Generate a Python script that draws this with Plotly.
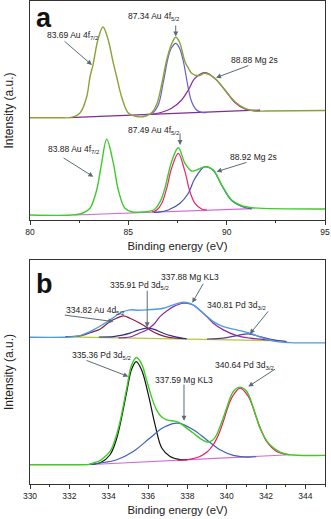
import plotly.graph_objects as go

# ---------------- Panel a (Au 4f / Mg 2s) ----------------
a_top_env_x = [80.0, 81.5, 82.1, 82.54, 82.88, 83.05, 83.22, 83.45, 83.71, 83.95, 84.24, 84.41, 84.66, 85.0, 85.42, 85.9,
               86.2, 86.45, 86.7, 86.95, 87.2, 87.41, 87.6, 87.88, 88.05, 88.22, 88.56, 88.9, 89.4, 89.91, 90.42, 90.93,
               91.44, 92.0, 95.0]
a_top_env_y = [102.3, 102.3, 102.6, 107, 123, 143, 156.7, 180, 193, 182, 156.7, 143, 123, 107, 103.5, 104,
               107.5, 116, 136, 160, 176, 182.7, 178, 158.3, 152, 146.7, 144.3, 146.7, 141.7, 130, 118.3, 111.7,
               109, 109, 109.5]
a_top_base_x = [82.0, 91.7]
a_top_base_y = [102.3, 110.0]
a_top_c1_x = [85.9, 86.2, 86.52, 86.78, 87.03, 87.2, 87.41, 87.6, 87.8, 88.05, 88.22, 88.47, 88.73, 89.0]
a_top_c1_y = [105.6, 106.5, 115, 138, 163, 172.5, 176.7, 172, 158.3, 131.7, 118.3, 110, 107.7, 107.5]
a_top_c2_x = [86.2, 86.7, 87.2, 87.71, 88.05, 88.39, 88.9, 89.4, 89.91, 90.42, 90.93, 91.44, 91.7]
a_top_c2_y = [105.5, 107.7, 111.7, 120, 130, 141.7, 147.3, 141.5, 130, 117.5, 111, 109.2, 109.6]

a_bot_env_x = [80.0, 82.3, 82.7, 83.05, 83.39, 83.64, 83.9, 84.24, 84.49, 84.83, 85.2, 85.7, 86.1, 86.36, 86.52, 86.7,
               86.86, 87.2, 87.54, 87.88, 88.22, 88.56, 88.9, 89.32, 89.75, 90.25, 90.76, 91.27, 95.0]
a_bot_env_y = [5, 5.2, 7, 11.7, 30, 56.7, 80.7, 56.7, 30, 11.7, 8, 8, 8.8, 11, 15, 22,
               31.7, 58.3, 72.3, 56.7, 49, 50.7, 53.3, 50, 35, 20, 14.3, 12.3, 11]
a_bot_base_x = [82.3, 91.3]
a_bot_base_y = [5.0, 11.3]
a_bot_red_x = [86.2, 86.45, 86.7, 86.95, 87.2, 87.54, 87.88, 88.13, 88.39, 88.73, 89.0]
a_bot_red_y = [8, 10, 16.7, 31.7, 51.7, 66.7, 48.3, 28.3, 16.7, 11, 10]
a_bot_blue_x = [86.3, 86.52, 87.03, 87.63, 88.05, 88.39, 88.9, 89.32, 89.75, 90.25, 90.76, 91.27]
a_bot_blue_y = [7.6, 7.8, 10, 16.7, 26.7, 41.7, 53.3, 49.5, 34.5, 19.5, 13.5, 11.2]

# ---------------- Panel b (Pd 3d / Au 4d / Mg KL3) ----------------
b_top_env_x = [330.0, 332.0, 332.54, 333.22, 333.73, 334.15, 334.58, 335.08, 335.5, 335.93, 336.4, 336.78, 337.29,
               337.8, 338.22, 338.81, 339.32, 339.83, 340.51, 341.18, 341.86, 342.54, 343.22, 345.0]
b_top_env_y = [147, 147.2, 148.6, 154.3, 160, 165.3, 171, 174.3, 174, 174.3, 175, 176, 179.3,
               182, 180, 171, 162.6, 157.6, 154.3, 151, 146, 142.6, 141.6, 141.3]
b_top_base_x = [331.8, 343.0]
b_top_base_y = [147.3, 143.2]
b_top_au_x = [331.8, 332.6, 333.22, 333.56, 334.07, 334.4, 334.75, 335.08, 335.59, 335.93, 336.1, 336.61, 337.0,
              337.46, 337.8]
b_top_au_y = [147.5, 148.5, 152.6, 155, 162.6, 166, 168.3, 166, 161, 157, 154.3, 149.3, 147, 146, 145.5]
b_top_pd1_x = [333.5, 334.24, 334.7, 335.08, 335.5, 335.93, 336.27, 336.78, 337.2, 337.46, 337.97]
b_top_pd1_y = [147.2, 147.6, 149, 151, 154, 156, 155, 151, 148.3, 147, 145.3]
b_top_mg_x = [334.5, 335.08, 335.5, 335.93, 336.3, 336.61, 337.0, 337.29, 337.8, 338.3, 338.81, 339.32, 339.83,
              340.51, 341.18, 342.03, 342.5]
b_top_mg_y = [146.3, 147.2, 150.5, 154.3, 160, 167.6, 174, 177.6, 181, 179.3, 171, 161, 154.3,
              148.6, 146, 144.3, 143.8]
b_top_pd2_x = [339.0, 339.83, 340.51, 341.1, 341.69, 342.37, 343.05]
b_top_pd2_y = [145.2, 146, 148.6, 150.3, 147.6, 144.3, 142.6]

b_bot_env_x = [330.0, 332.5, 333.0, 333.22, 333.6, 334.07, 334.35, 334.58, 334.92, 335.17, 335.42, 335.68, 335.93,
               336.2, 336.44, 336.7, 336.95, 337.54, 337.9, 338.3, 338.7, 339.07, 339.3, 339.49, 339.75, 340.0,
               340.34, 340.68, 341.02, 341.36, 341.69, 341.95, 342.2, 342.71, 343.2, 345.0]
b_bot_env_y = [19.3, 19.3, 19.6, 21, 24, 32.6, 46, 62.6, 96, 119.3, 126.6, 120, 104,
               86, 74, 67, 64.3, 62, 57, 51, 45, 42, 44, 49.3, 62, 76,
               92.6, 97, 92.6, 76, 56, 46, 39.3, 32, 29.3, 28.7]
b_bot_base_x = [332.88, 343.2]
b_bot_base_y = [19.3, 29.3]
b_bot_blk_x = [333.0, 333.6, 334.07, 334.35, 334.58, 334.92, 335.17, 335.4, 335.68, 336.02, 336.36, 336.7, 337.12,
               337.63, 338.0]
b_bot_blk_y = [19.5, 21.5, 29.3, 42, 59.3, 92.6, 115, 122.6, 114, 89.3, 59.3, 36, 27.6, 24.5, 24.4]
b_bot_blue_x = [333.0, 333.56, 334.41, 335.25, 336.1, 336.78, 337.54, 338.3, 338.98, 339.66, 340.34, 341.02, 341.5]
b_bot_blue_y = [19.6, 21, 24.3, 32.6, 46, 56.6, 61, 54.3, 44.3, 34.3, 28.7, 27, 27.3]
b_bot_red_x = [337.5, 337.97, 338.64, 339.0, 339.32, 339.6, 339.83, 340.25, 340.68, 341.1, 341.52, 341.8, 342.03,
               342.54, 343.2]
b_bot_red_y = [23.8, 24.3, 27.6, 32, 39.3, 50, 62.6, 86, 96, 87.6, 66, 52, 42.6, 32.6, 29.3]

# annotation labels: text, text position, arrow tail, arrow head
a_labels = ["83.69 Au 4f<sub>7/2</sub>", "87.34 Au 4f<sub>5/2</sub>", "88.88 Mg 2s",
            "83.88 Au 4f<sub>7/2</sub>", "87.49 Au 4f<sub>5/2</sub>", "88.92 Mg 2s"]
a_label_xy = [(82.15, 185), (86.3, 204), (91.41, 160), (82.21, 70), (86.3, 90), (91.34, 63)]
a_arrow_tail = [(81.68, 180), (87.41, 196), (91.18, 155), (81.63, 63), (87.63, 88), (91.08, 58)]
a_arrow_head = [(83.15, 155), (87.41, 183.5), (89.46, 142.3), (83.22, 43.3), (87.63, 75), (89.49, 48.3)]

b_labels = ["334.82 Au 4d<sub>5/2</sub>", "335.91 Pd 3d<sub>5/2</sub>", "337.88 Mg KL3", "340.81 Pd 3d<sub>3/2</sub>",
            "335.36 Pd 3d<sub>5/2</sub>", "337.59 Mg KL3", "340.64 Pd 3d<sub>3/2</sub>"]
b_label_xy = [(333.3, 174), (335.58, 199), (338.13, 207.6), (340.51, 179), (333.64, 129), (337.84, 104.3),
              (340.93, 119)]
b_arrow_tail = [(331.69, 169.3), (335.96, 195), (338.85, 202), (342.17, 174.3), (332.8, 124.3), (337.83, 101),
                (342.54, 116)]
b_arrow_head = [(334.24, 162.6), (335.96, 157), (338.25, 181.5), (341.18, 150.3), (335.0, 107.6), (337.83, 63.3),
                (341.1, 97.6)]

fig = go.Figure()


def add_line(x, y, color, xa, ya, width=1.2):
    fig.add_trace(go.Scatter(x=x, y=y, mode="lines", xaxis=xa, yaxis=ya,
                             line=dict(color=color, width=width, shape="spline", smoothing=1.0),
                             showlegend=False, hoverinfo="skip"))


# panel a
add_line(a_top_base_x, a_top_base_y, "#7e2d8e", "x", "y")
add_line(a_top_c1_x, a_top_c1_y, "#6a5cd2", "x", "y")
add_line(a_top_c2_x, a_top_c2_y, "#8e2aa0", "x", "y")
add_line(a_top_env_x, a_top_env_y, "#8aa236", "x", "y", 1.4)
add_line(a_bot_base_x, a_bot_base_y, "#cf6ad8", "x", "y")
add_line(a_bot_red_x, a_bot_red_y, "#f0206a", "x", "y")
add_line(a_bot_blue_x, a_bot_blue_y, "#3a55b8", "x", "y")
add_line(a_bot_env_x, a_bot_env_y, "#3ccc2c", "x", "y", 1.4)

# panel b
add_line(b_top_base_x, b_top_base_y, "#b3c83c", "x2", "y2")
add_line(b_top_au_x, b_top_au_y, "#8a2040", "x2", "y2")
add_line(b_top_pd1_x, b_top_pd1_y, "#2d2f8a", "x2", "y2")
add_line(b_top_mg_x, b_top_mg_y, "#8a2da0", "x2", "y2")
add_line(b_top_pd2_x, b_top_pd2_y, "#5a3a9a", "x2", "y2")
add_line(b_top_env_x, b_top_env_y, "#4c9ce2", "x2", "y2", 1.4)
add_line(b_bot_base_x, b_bot_base_y, "#cf6ad8", "x2", "y2")
add_line(b_bot_blk_x, b_bot_blk_y, "#111111", "x2", "y2")
add_line(b_bot_blue_x, b_bot_blue_y, "#3a60b8", "x2", "y2")
add_line(b_bot_red_x, b_bot_red_y, "#ee1860", "x2", "y2")
add_line(b_bot_env_x, b_bot_env_y, "#3ccc22", "x2", "y2", 1.4)

FONT = "Liberation Sans, Arial, sans-serif"
annotations = []
ARROW = "#5a6c74"


def add_labels(labels, pos, tails, heads, xr, yr):
    for t, p, tl, hd in zip(labels, pos, tails, heads):
        annotations.append(dict(text=t, x=p[0], y=p[1], xref=xr, yref=yr, showarrow=False,
                                font=dict(family=FONT, size=8.5, color="#222")))
        annotations.append(dict(text="", x=hd[0], y=hd[1], ax=tl[0], ay=tl[1], xref=xr, yref=yr,
                                axref=xr, ayref=yr, showarrow=True, arrowhead=2, arrowsize=1,
                                arrowwidth=1, arrowcolor=ARROW, standoff=0))


add_labels(a_labels, a_label_xy, a_arrow_tail, a_arrow_head, "x", "y")
add_labels(b_labels, b_label_xy, b_arrow_tail, b_arrow_head, "x2", "y2")

annotations.append(dict(text="<b>a</b>", x=80.72, y=202, xref="x", yref="y", showarrow=False,
                        font=dict(family=FONT, size=27, color="#111")))
annotations.append(dict(text="<b>b</b>", x=330.76, y=200, xref="x2", yref="y2", showarrow=False,
                        font=dict(family=FONT, size=27, color="#111")))

xaxis_common = dict(showline=True, linecolor="#333", linewidth=1, mirror=True, ticks="outside",
                    ticklen=4, tickwidth=1, tickcolor="#333", showgrid=False, zeroline=False,
                    automargin=False,
                    tickfont=dict(family=FONT, size=8.5, color="#222"),
                    title=dict(text="Binding energy (eV)", font=dict(family=FONT, size=11.3, color="#222"),
                               standoff=5))
yaxis_common = dict(showline=True, linecolor="#333", linewidth=1, mirror=True, ticks="",
                    showticklabels=False, showgrid=False, zeroline=False, automargin=False,
                    title=dict(text="Intensity (a.u.)", font=dict(family=FONT, size=12, color="#222"),
                               standoff=12))

fig.update_layout(
    width=331, height=519,
    margin=dict(l=30, r=6, t=1, b=35),
    paper_bgcolor="white", plot_bgcolor="white",
    xaxis=dict(xaxis_common, range=[80, 95], dtick=5, tick0=80, anchor="y",
               minor=dict(dtick=2.5, ticks="outside", ticklen=2, tickcolor="#333")),
    yaxis=dict(yaxis_common, range=[0, 219], domain=[0.5466, 1.0], anchor="x"),
    xaxis2=dict(xaxis_common, range=[330, 345], dtick=2, tick0=330, anchor="y2",
                minor=dict(dtick=1, ticks="outside", ticklen=2, tickcolor="#333")),
    yaxis2=dict(yaxis_common, range=[0, 224.3], domain=[0.0, 0.4638], anchor="x2"),
    annotations=annotations,
)

fig.write_html("out.html", config={"displayModeBar": False},
               post_script="document.body.style.margin='0';document.body.style.overflow='hidden';")
